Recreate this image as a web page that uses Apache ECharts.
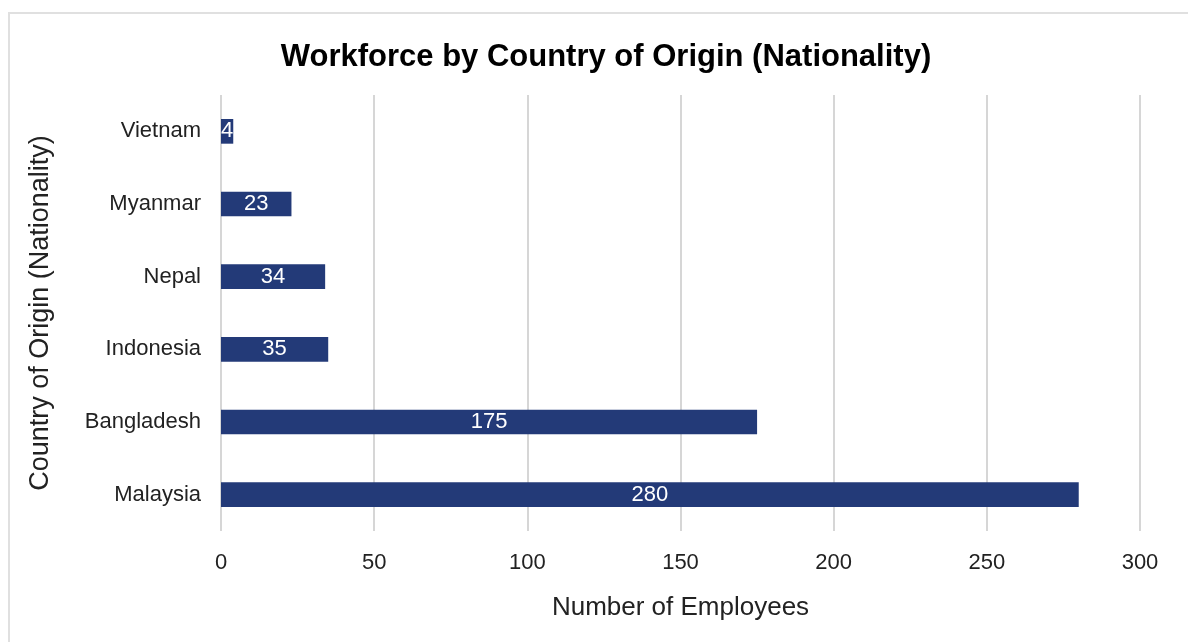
<!DOCTYPE html>
<html><head><meta charset="utf-8">
<script src="https://cdn.jsdelivr.net/npm/echarts@6/dist/echarts.min.js"></script>
<style>
html,body{margin:0;padding:0;background:#fff;}
#frame{position:absolute;left:8px;top:12px;width:1300px;height:700px;border:2px solid #e0e0e0;box-sizing:border-box;}
#c{position:absolute;left:0;top:0;width:1188px;height:642px;}
</style></head>
<body>
<div id="frame"></div>
<div id="c"></div>
<script>
const categories = ["Malaysia", "Bangladesh", "Indonesia", "Nepal", "Myanmar", "Vietnam"];
const employees = [280, 175, 35, 34, 23, 4];
const xTicks = [0, 50, 100, 150, 200, 250, 300];

const font = "'Liberation Sans', Arial, sans-serif";
const chart = echarts.init(document.getElementById('c'));
chart.setOption({
  animation: false,
  title: {
    text: 'Workforce by Country of Origin (Nationality)',
    left: 601, top: 37, textAlign: 'center',
    textStyle: { fontFamily: font, fontSize: 31, fontWeight: 'bold', color: '#000' }
  },
  grid: { left: 221, right: 48, top: 95, bottom: 111, containLabel: false },
  xAxis: {
    type: 'value', min: xTicks[0], max: xTicks[xTicks.length - 1], interval: 50,
    name: 'Number of Employees', nameLocation: 'middle', nameGap: 64,
    nameTextStyle: { fontFamily: font, fontSize: 26, color: '#222' },
    axisLine: { show: false }, axisTick: { show: false },
    axisLabel: { fontFamily: font, fontSize: 22, color: '#222', margin: 21 },
    splitLine: { show: true, lineStyle: { color: '#d6d6d6', width: 2 } }
  },
  yAxis: {
    type: 'category', data: categories,
    name: 'Country of Origin (Nationality)', nameLocation: 'middle', nameGap: 167,
    nameTextStyle: { fontFamily: font, fontSize: 27, color: '#222' },
    axisLine: { show: false }, axisTick: { show: false },
    axisLabel: { fontFamily: font, fontSize: 22, color: '#222', margin: 20 },
    splitLine: { show: false }
  },
  series: [{
    type: 'bar', data: employees, barWidth: '34%',
    itemStyle: { color: '#233a78' },
    label: { show: true, position: 'inside', color: '#fff', fontFamily: font, fontSize: 22 }
  }]
});
</script>
</body></html>
